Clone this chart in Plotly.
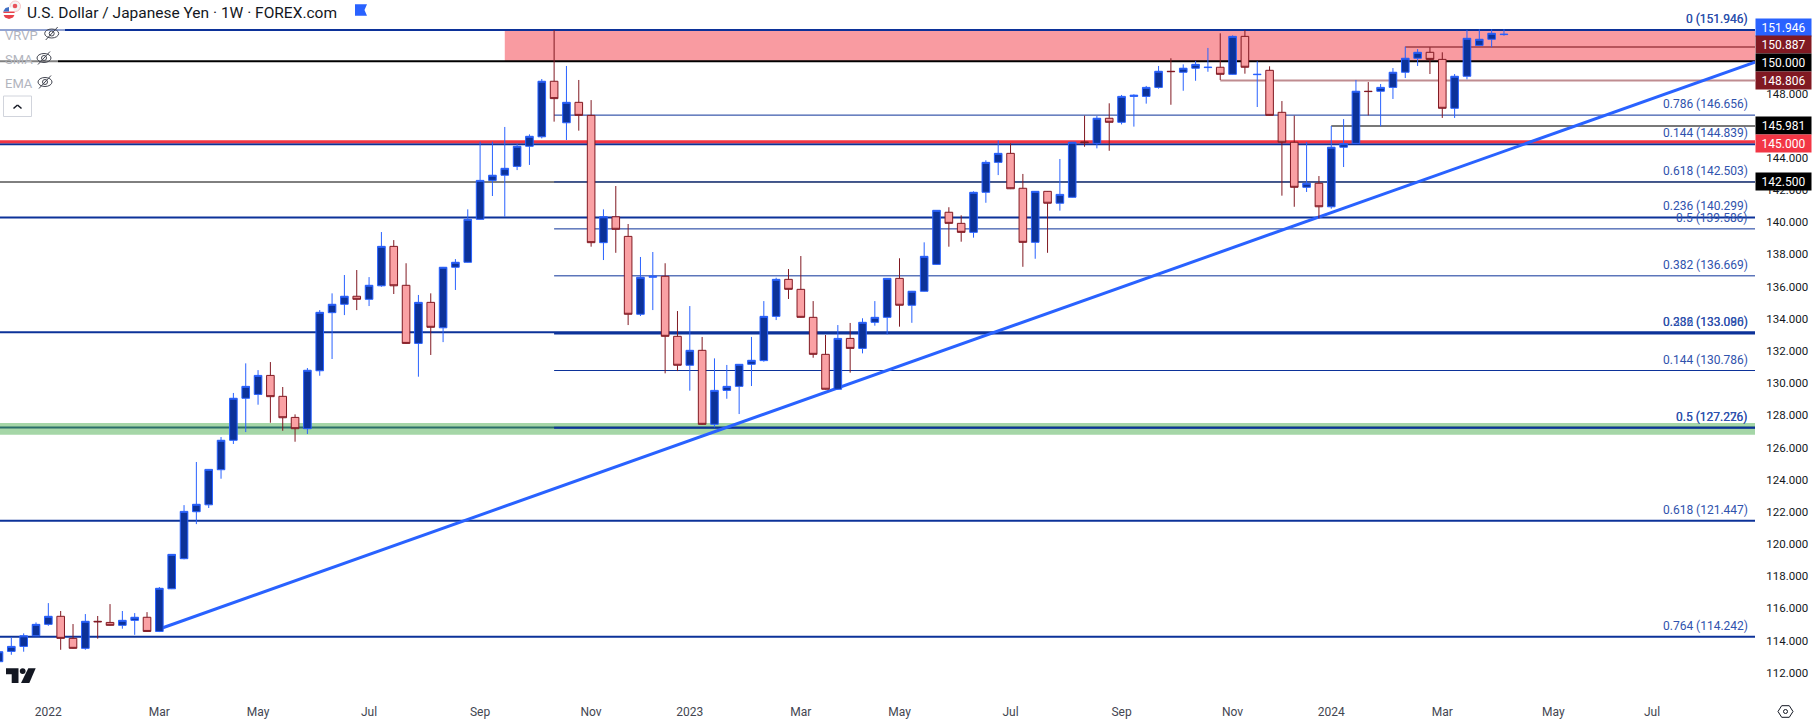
import pandas as pd
import plotly.graph_objects as go

FIRST_WEEK = "2021-12-06"
opens = [112.69,113.33,113.64,114.30,115.01,115.51,114.14,113.52,115.20,115.13,114.95,115.26,115.45,114.57,117.22,119.09,122.01,122.44,124.62,126.45,129.06,129.30,130.48,129.18,127.87,127.17,130.77,134.38,134.90,135.40,135.21,136.05,138.50,136.08,132.47,135.02,133.44,137.20,137.51,140.18,142.60,142.92,143.47,144.72,145.31,148.76,146.18,147.45,146.64,138.73,140.34,139.12,134.28,136.58,136.64,132.91,131.11,132.04,127.44,129.55,129.80,131.17,131.40,134.15,136.45,135.83,134.09,131.79,129.62,132.78,132.16,133.78,134.09,136.51,134.84,135.71,137.38,140.62,139.93,139.37,141.86,143.72,144.28,142.11,138.75,141.92,141.18,141.55,144.99,144.90,146.46,146.21,147.82,147.82,148.38,149.38,149.32,149.57,149.61,149.63,149.19,151.55,149.17,149.44,146.83,144.97,142.17,142.42,140.96,144.66,144.90,148.14,148.14,148.38,149.32,150.19,150.56,150.12,147.08,149.07,150.99,151.37,151.66]
highs = [113.40,114.20,114.45,115.13,116.33,115.84,115.03,115.65,115.53,116.27,115.84,115.71,115.77,117.33,119.36,122.42,125.10,124.66,126.65,129.39,131.23,130.81,131.31,129.76,128.06,130.94,134.54,135.58,136.72,137.03,136.59,139.39,138.89,137.45,135.48,135.58,137.22,137.71,140.80,145.00,145.00,145.92,144.88,145.46,148.90,151.95,149.71,148.84,147.59,140.80,142.25,139.89,137.84,138.15,137.45,134.48,134.79,132.87,131.54,131.13,131.19,132.87,135.10,136.55,137.09,137.90,135.10,132.99,133.61,133.74,134.03,135.10,136.53,137.76,135.73,138.75,140.76,140.93,140.43,141.92,143.85,145.09,144.90,143.00,141.94,141.94,143.93,144.99,146.62,146.60,147.39,147.91,147.95,148.47,149.71,150.19,149.81,150.02,150.83,151.74,151.61,151.95,150.00,149.69,147.53,146.62,144.98,142.87,145.98,146.41,148.84,148.71,148.59,149.58,150.91,150.76,150.87,150.56,149.21,151.95,151.99,151.99,151.99]
lows = [112.60,113.12,113.31,114.28,114.92,113.43,113.50,113.43,114.12,114.93,114.74,114.36,114.55,114.53,117.20,119.05,121.24,122.24,124.06,126.22,126.96,128.66,127.54,127.04,126.36,126.84,130.46,131.50,134.23,134.54,134.79,135.99,135.54,132.45,130.40,131.75,132.55,135.79,137.49,140.16,141.63,140.34,143.24,143.56,145.21,146.25,145.11,145.69,138.48,137.65,138.10,133.61,134.17,134.54,130.61,130.75,129.53,127.42,127.25,129.03,128.08,129.82,131.33,133.92,135.23,134.07,131.58,129.60,129.60,130.65,131.85,133.57,133.03,133.51,133.75,135.69,137.36,138.48,138.79,139.04,141.21,142.93,142.06,137.23,137.73,138.10,140.72,141.53,144.69,144.59,144.44,146.08,145.94,147.37,148.30,147.30,148.17,148.79,149.35,148.84,149.17,149.23,147.16,146.62,141.65,140.96,141.88,140.24,140.84,143.43,144.88,146.64,145.96,147.66,148.96,149.71,149.21,146.48,146.48,148.88,150.97,150.87,151.59]
closes = [113.31,113.64,114.30,115.01,115.51,114.14,113.52,115.20,115.17,114.95,115.26,115.45,114.57,117.25,119.36,122.03,122.47,124.64,126.45,129.06,129.80,130.48,129.16,127.85,127.17,130.80,134.40,134.90,135.40,135.21,136.08,138.50,136.05,132.47,135.02,133.47,137.20,137.51,140.18,142.60,142.92,143.35,144.72,145.34,148.76,147.68,147.45,146.64,138.73,140.34,139.56,134.28,136.58,136.64,132.91,131.11,132.04,127.44,129.55,129.80,131.17,131.42,134.15,136.45,135.83,134.09,131.79,129.62,132.78,132.16,133.78,134.09,136.51,134.84,135.71,137.88,140.74,139.93,139.37,141.86,143.72,144.28,142.08,138.75,141.92,141.18,141.73,144.97,144.95,146.46,146.21,147.82,147.89,148.38,149.38,149.36,149.57,149.81,149.63,149.19,151.55,149.63,149.19,146.64,144.97,142.17,142.42,140.96,144.66,144.88,148.14,148.12,148.38,149.32,150.19,150.56,150.12,147.08,149.07,151.43,151.37,151.74,151.68]

time_ticks = ["2022-01-03","2022-03-07","2022-05-02","2022-07-04","2022-09-05","2022-11-07","2023-01-02","2023-03-06","2023-05-01","2023-07-03","2023-09-04","2023-11-06","2024-01-01","2024-03-04","2024-05-06","2024-07-01"]
time_labels = ["2022","Mar","May","Jul","Sep","Nov","2023","Mar","May","Jul","Sep","Nov","2024","Mar","May","Jul"]
# the scale marks that the badges do not cover
price_ticks = [112,114,116,118,120,122,124,126,128,130,132,134,136,138,140,142,144,148]

# (price, colour, width, first bar index or None for the full width)
levels = [
    (151.946, "#0c3299", 2, None),
    (150.000, "#000000", 2, None),
    (150.887, "rgba(128,25,34,0.55)", 2, 114),
    (148.806, "rgba(128,25,34,0.5)", 2, 99),
    (146.656, "#0c3299", 1, 45),
    (145.981, "#787878", 2, 108),
    (144.839, "#0c3299", 2, None),
    (145.000, "#f23645", 3, None),
    (142.500, "#000000", 1, None),
    (142.503, "#0c3299", 1, 45),
    (140.299, "#0c3299", 2, None),
    (139.586, "#0c3299", 1, 45),
    (136.669, "#0c3299", 1, 45),
    (133.160, "#0c3299", 2, None),
    (133.090, "#0c3299", 2, 45),
    (130.786, "#0c3299", 1, 45),
    (127.250, "#2c6e6a", 2, None),
    (127.230, "#0c3299", 2, 45),
    (121.447, "#0c3299", 2, None),
    (114.242, "#0c3299", 2, None),
]
fib_labels = [
    ("0 (151.946)", 151.946), ("0 (151.946)", 151.946),
    ("0.786 (146.656)", 146.656), ("0.144 (144.839)", 144.839),
    ("0.618 (142.503)", 142.503), ("0.236 (140.299)", 140.299),
    ("0.5 (139.586)", 139.586), ("0.382 (136.669)", 136.669),
    ("0.382 (133.090)", 133.090), ("0.236 (133.086)", 133.090),
    ("0.144 (130.786)", 130.786), ("0.5 (127.276)", 127.230),
    ("0.5 (127.226)", 127.230), ("0.618 (121.447)", 121.447),
    ("0.764 (114.242)", 114.242),
]
# (text, fill, centre of the badge in px from the top)
badges = [
    ("151.946", "#2962ff", 27.3), ("150.887", "#801922", 44.5),
    ("150.000", "#000000", 62), ("148.806", "#801922", 81),
    ("145.981", "#000000", 125.5), ("145.000", "#f23645", 143),
    ("142.500", "#000000", 182),
]
resistance_zone = (150.000, 151.946, 41)
support_zone = (126.80, 127.52)
trend_line = (13, 114.72, 149.95)

FONT = "Roboto"
W, H, PW, PH = 1812, 722, 1755, 695
week = lambda i: pd.Timestamp(FIRST_WEEK) + pd.Timedelta(days=7 * i)
dates = [week(i) for i in range(len(opens))]
x_start, x_end = week(0.081), week(142.35)
y_low, y_high = 110.62, 153.81
px = lambda x: x / PW
py = lambda y: (PH - y) / PH

fig = go.Figure(go.Candlestick(
    x=dates, open=opens, high=highs, low=lows, close=closes,
    increasing=dict(line=dict(color="#2962ff", width=1), fillcolor="#0c3299"),
    decreasing=dict(line=dict(color="#801922", width=1), fillcolor="#faa1a4"),
    whiskerwidth=0, showlegend=False, hoverinfo="skip",
))

shapes = [
    dict(type="rect", xref="x", yref="y", x0=x_start, x1=x_end, y0=support_zone[0], y1=support_zone[1],
         fillcolor="#a5d6a7", line_width=0, layer="below"),
    dict(type="rect", xref="x", yref="y", x0=week(resistance_zone[2]), x1=x_end,
         y0=resistance_zone[0], y1=resistance_zone[1], fillcolor="#f99ba1", line_width=0, layer="below"),
]
for price, color, width, start in levels:
    shapes.append(dict(type="line", xref="x", yref="y", x0=x_start if start is None else week(start), x1=x_end,
                       y0=price, y1=price, line=dict(color=color, width=width), layer="below"))
shapes.append(dict(type="line", xref="x", yref="y", x0=week(trend_line[0]), x1=x_end,
                   y0=trend_line[1], y1=trend_line[2], line=dict(color="#2962ff", width=3), layer="below"))

def pshape(kind, x0, y0, x1, y1, **kw):
    return dict(type=kind, xref="paper", yref="paper", x0=px(x0), x1=px(x1), y0=py(y0), y1=py(y1), **kw)

def ppath(points, **kw):
    d = "M " + " L ".join(f"{px(a):.5f},{py(b):.5f}" for a, b in points) + " Z"
    return dict(type="path", xref="paper", yref="paper", path=d, **kw)

# legend veil over the two lines
shapes += [pshape("rect", 0, 27, 65, 33, fillcolor="rgba(255,255,255,0.55)", line_width=0),
           pshape("rect", 0, 58, 58, 64, fillcolor="rgba(255,255,255,0.5)", line_width=0)]
# crossed eyes
for cx, cy in [(51.7, 33.5), (44, 58), (45, 82)]:
    shapes.append(pshape("circle", cx - 7, cy - 4.5, cx + 7, cy + 4.5, line=dict(color="#434651", width=1)))
    shapes.append(pshape("circle", cx - 2.5, cy - 2.5, cx + 2.5, cy + 2.5, line=dict(color="#434651", width=1)))
    shapes.append(pshape("line", cx - 6, cy + 6.5, cx + 6, cy - 6.5, line=dict(color="#434651", width=1)))
# collapse button
shapes.append(pshape("rect", 3.5, 96, 31.5, 116.5, line=dict(color="#d1d4dc", width=1)))
shapes.append(pshape("line", 13.5, 108.5, 17.5, 105, line=dict(color="#131722", width=1.5)))
shapes.append(pshape("line", 17.5, 105, 21.5, 108.5, line=dict(color="#131722", width=1.5)))
# currency flags
shapes.append(pshape("circle", 10, 1, 20.5, 11.5, fillcolor="#f4f4f4", line=dict(color="#f7c6c6", width=1)))
shapes.append(pshape("circle", 12.7, 3.7, 17.3, 8.3, fillcolor="#e8525a", line_width=0))
shapes.append(pshape("circle", 3, 7, 15, 19, fillcolor="#ffffff", line_width=0))
shapes.append(ppath([(3.6, 15), (14.4, 15), (13, 17.5), (9, 19), (5, 17.5)], fillcolor="#e8424a", line_width=0))
shapes.append(pshape("rect", 3.4, 11.5, 14.6, 13, fillcolor="#e8424a", line_width=0))
shapes.append(ppath([(3.2, 11.5), (9, 11.5), (9, 7), (5.5, 8)], fillcolor="#3f6fc4", line_width=0))
# blue session flag
shapes.append(ppath([(355, 4.3), (367, 4.3), (364.5, 10), (367, 15.7), (355, 15.7)], fillcolor="#2962ff", line_width=0))
# TradingView mark
shapes.append(ppath([(6, 668.3), (18.5, 668.3), (18.5, 683), (11.7, 683), (11.7, 674.3), (6, 674.3)], fillcolor="#131722", line_width=0))
shapes.append(pshape("circle", 19.8, 668.2, 25.6, 674, fillcolor="#131722", line_width=0))
shapes.append(ppath([(28.3, 668.3), (35.7, 668.3), (29.3, 683), (21, 683)], fillcolor="#131722", line_width=0))
# settings gear
shapes.append(ppath([(1778, 711.5), (1781.7, 705.7), (1789.3, 705.7), (1793, 711.5), (1789.3, 717.3), (1781.7, 717.3)],
                    line=dict(color="#131722", width=1)))
shapes.append(pshape("circle", 1783.5, 709.5, 1787.5, 713.5, line=dict(color="#131722", width=1)))

annotations = [dict(text="U.S. Dollar / Japanese Yen · 1W · FOREX.com", xref="paper", yref="paper",
                    x=px(25), y=py(12.5), xanchor="left", yanchor="middle", showarrow=False,
                    font=dict(family=FONT, size=15.5, color="#131722"))]
for text, cy, x0 in [("VRVP", 35, 3), ("SMA", 59, 3), ("EMA", 83, 3)]:
    annotations.append(dict(text=text, xref="paper", yref="paper", x=px(x0), y=py(cy), xanchor="left",
                            yanchor="middle", showarrow=False, font=dict(family=FONT, size=13, color="#b2b5be")))
for text, price in fib_labels:
    annotations.append(dict(text=text, xref="paper", yref="y", x=px(1749.5), y=price, xanchor="right", yanchor="bottom",
                            yshift=2, showarrow=False, font=dict(family=FONT, size=12, color="#2f52ad")))
for text, fill, cy in badges:
    annotations.append(dict(text=text, xref="paper", yref="paper", x=1.0, y=py(cy), xanchor="left", yanchor="middle",
                            showarrow=False, bgcolor=fill, width=55, height=17, borderpad=0,
                            font=dict(family=FONT, size=12, color="#ffffff")))

fig.update_layout(
    width=W, height=H, margin=dict(l=0, r=W - PW, t=0, b=H - PH, pad=0),
    paper_bgcolor="#ffffff", plot_bgcolor="#ffffff", showlegend=False, shapes=shapes, annotations=annotations,
    boxgap=0.12,
    xaxis=dict(range=[x_start, x_end], type="date", rangeslider=dict(visible=False), showgrid=False, zeroline=False,
               showline=False, tickmode="array", tickvals=time_ticks, ticktext=time_labels, ticks="outside", ticklen=6,
               tickcolor="rgba(0,0,0,0)", tickfont=dict(family=FONT, size=12, color="#434651")),
    yaxis=dict(range=[y_low, y_high], side="right", showgrid=False, zeroline=False, showline=False,
               tickmode="array", tickvals=price_ticks, ticktext=[f"{v:.3f}" for v in price_ticks],
               ticks="outside", ticklen=8, tickcolor="rgba(0,0,0,0)",
               tickfont=dict(family=FONT, size=11.5, color="#131722")),
)
fig.write_html("out.html", config=dict(displayModeBar=False),
               post_script="document.body.style.margin='0';document.documentElement.style.overflow='hidden';")
